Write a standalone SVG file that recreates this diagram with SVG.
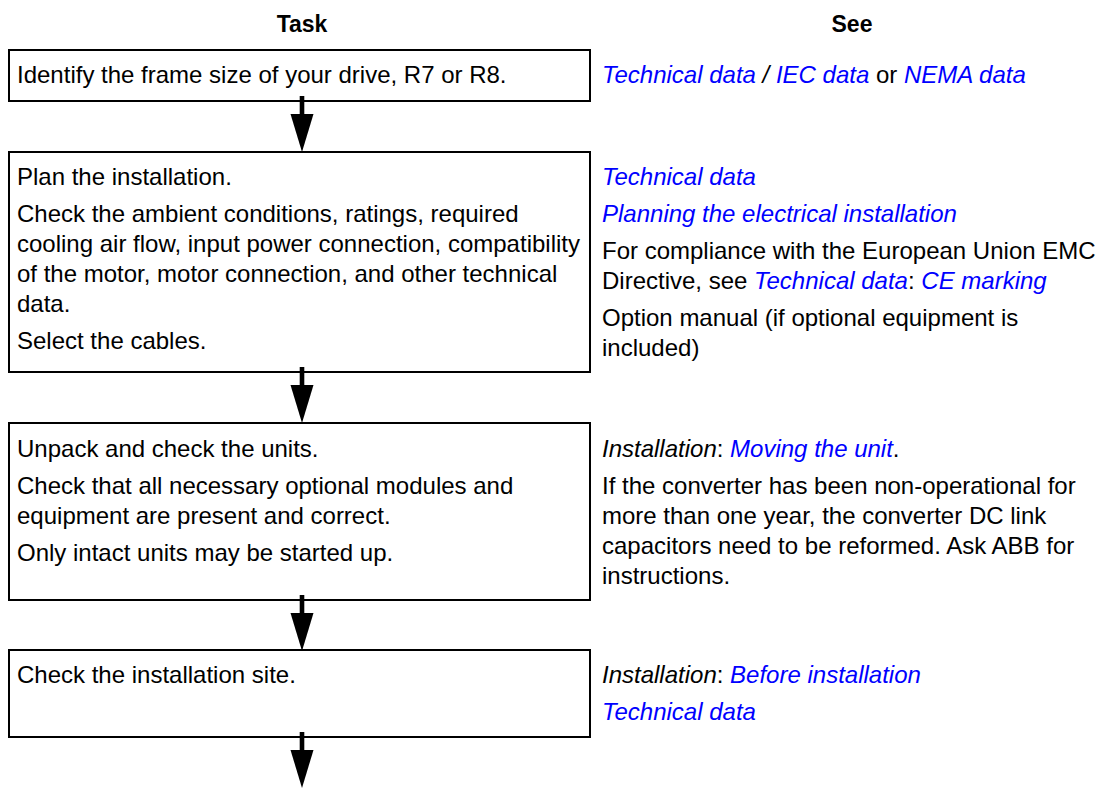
<svg xmlns="http://www.w3.org/2000/svg" width="1096" height="788" viewBox="0 0 1096 788">
<style>
text{font-family:"Liberation Sans",Arial,sans-serif;font-size:24px;fill:#000}
.h{font-weight:bold;font-size:23px;text-anchor:middle}
.l{fill:#0000ff;font-style:italic}
.i{font-style:italic}
.box{fill:#fff;stroke:#000;stroke-width:2}
.arr{fill:#000;stroke:none}
</style>
<defs>
<g id="arrow"><rect x="-2.3" y="0" width="4.6" height="20" class="arr"/><polygon points="-11.5,18 11.5,18 0,56" class="arr"/></g>
</defs>
<text class="h" x="302" y="32">Task</text>
<text class="h" x="852" y="32">See</text>
<g id="step1">
<rect class="box" x="9" y="50" width="581" height="51"/>
<text x="17" y="83">Identify the frame size of your drive, R7 or R8.</text>
<text x="602" y="83"><tspan class="l">Technical data</tspan><tspan class="i"> / </tspan><tspan class="l">IEC data</tspan> or <tspan class="l">NEMA data</tspan></text>
</g>
<g id="step2">
<rect class="box" x="9" y="152" width="581" height="220"/>
<text x="17" y="185">Plan the installation.</text>
<text x="17" y="222">Check the ambient conditions, ratings, required</text>
<text x="17" y="252">cooling air flow, input power connection, compatibility</text>
<text x="17" y="282">of the motor, motor connection, and other technical</text>
<text x="17" y="312">data.</text>
<text x="17" y="349">Select the cables.</text>
<text x="602" y="185" class="l">Technical data</text>
<text x="602" y="222" class="l">Planning the electrical installation</text>
<text x="602" y="259">For compliance with the European Union EMC</text>
<text x="602" y="289">Directive, see <tspan class="l">Technical data</tspan>: <tspan class="l">CE marking</tspan></text>
<text x="602" y="326">Option manual (if optional equipment is</text>
<text x="602" y="356">included)</text>
</g>
<g id="step3">
<rect class="box" x="9" y="423" width="581" height="177"/>
<text x="17" y="457">Unpack and check the units.</text>
<text x="17" y="494">Check that all necessary optional modules and</text>
<text x="17" y="524">equipment are present and correct.</text>
<text x="17" y="561">Only intact units may be started up.</text>
<text x="602" y="457"><tspan class="i">Installation</tspan>: <tspan class="l">Moving the unit</tspan>.</text>
<text x="602" y="494">If the converter has been non-operational for</text>
<text x="602" y="524">more than one year, the converter DC link</text>
<text x="602" y="554">capacitors need to be reformed. Ask ABB for</text>
<text x="602" y="584">instructions.</text>
</g>
<g id="step4">
<rect class="box" x="9" y="650" width="581" height="87"/>
<text x="17" y="683">Check the installation site.</text>
<text x="602" y="683"><tspan class="i">Installation</tspan>: <tspan class="l">Before installation</tspan></text>
<text x="602" y="720" class="l">Technical data</text>
</g>
<g id="connectors">
<use href="#arrow" x="302" y="96"/>
<use href="#arrow" x="302" y="367"/>
<use href="#arrow" x="302" y="595"/>
<use href="#arrow" x="302" y="732"/>
</g>
</svg>
